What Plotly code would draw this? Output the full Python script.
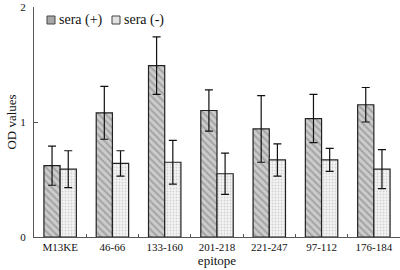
import plotly.graph_objects as go

categories = ["M13KE", "46-66", "133-160", "201-218", "221-247", "97-112", "176-184"]
pos_vals = [0.62, 1.08, 1.49, 1.10, 0.94, 1.03, 1.15]
pos_err = [0.17, 0.23, 0.25, 0.18, 0.29, 0.21, 0.15]
neg_vals = [0.59, 0.64, 0.65, 0.55, 0.67, 0.67, 0.59]
neg_err = [0.16, 0.11, 0.19, 0.18, 0.14, 0.10, 0.17]
series_names = ["sera (+)", "sera (-)"]
y_ticks = [0, 1, 2]

font = "Liberation Serif, Times New Roman, serif"

pos_style = dict(color="#c4c4c4", line=dict(color="#222", width=1.2),
                 pattern=dict(shape="\\", fgcolor="#7a7a7a", bgcolor="#cccccc", size=5, solidity=0.4))
neg_style = dict(color="#f2f2f2", line=dict(color="#222", width=1.2),
                 pattern=dict(shape=".", fgcolor="#b0b0b0", bgcolor="#f4f4f4", size=3, solidity=0.3))

fig = go.Figure()
fig.add_trace(go.Bar(
    name=series_names[0], x=categories, y=pos_vals, showlegend=False,
    error_y=dict(type="data", array=pos_err, color="#111", thickness=1.2, width=4),
    marker=pos_style,
))
fig.add_trace(go.Bar(
    name=series_names[1], x=categories, y=neg_vals, showlegend=False,
    error_y=dict(type="data", array=neg_err, color="#111", thickness=1.2, width=4),
    marker=neg_style,
))

# compact legend (drawn in pixel-like paper coordinates)
W, H = 400, 270
L, R, T, B = 34, 0, 7, 33
pw, ph = W - L - R, H - T - B
def px(x):
    return (x - L) / pw
def py(y):
    return 1 - (y - T) / ph

legend_items = [
    (47, "#a9a9a9", series_names[0]),
    (112, "#e2e2e2", series_names[1]),
]
shapes = []
annotations = []
for x0, fill, label in legend_items:
    shapes.append(dict(type="rect", xref="paper", yref="paper",
                       x0=px(x0), x1=px(x0 + 8), y0=py(24), y1=py(16),
                       fillcolor=fill, line=dict(color="#444", width=1)))
    annotations.append(dict(xref="paper", yref="paper", x=px(x0 + 10), y=py(20),
                            xanchor="left", yanchor="middle", showarrow=False,
                            text=label, font=dict(family=font, size=14, color="#111")))

fig.update_layout(
    width=W, height=H,
    margin=dict(l=L, r=R, t=T, b=B, autoexpand=False),
    paper_bgcolor="white", plot_bgcolor="white",
    barmode="group", bargap=0.38, bargroupgap=0,
    font=dict(family=font, size=11, color="#111"),
    showlegend=False,
    shapes=shapes,
    annotations=annotations,
    xaxis=dict(
        type="category", showline=True, linecolor="#555", linewidth=1,
        ticks="inside", ticklen=3, tickcolor="#555", tickson="boundaries",
        automargin=False,
        title=dict(text="epitope", font=dict(size=13, family=font), standoff=2),
        tickfont=dict(size=11, family=font),
    ),
    yaxis=dict(
        range=[0, 2], tickvals=y_ticks, showline=True, linecolor="#555", linewidth=1,
        ticks="inside", ticklen=4, tickcolor="#555", showgrid=False, zeroline=False,
        automargin=False, ticklabelstandoff=5, ticklabeloverflow="allow",
        title=dict(text="OD values", font=dict(size=13, family=font), standoff=0),
        tickfont=dict(size=11, family=font),
    ),
)

fig.write_html("out.html", config={"displayModeBar": False},
               post_script="document.body.style.margin='0';")
